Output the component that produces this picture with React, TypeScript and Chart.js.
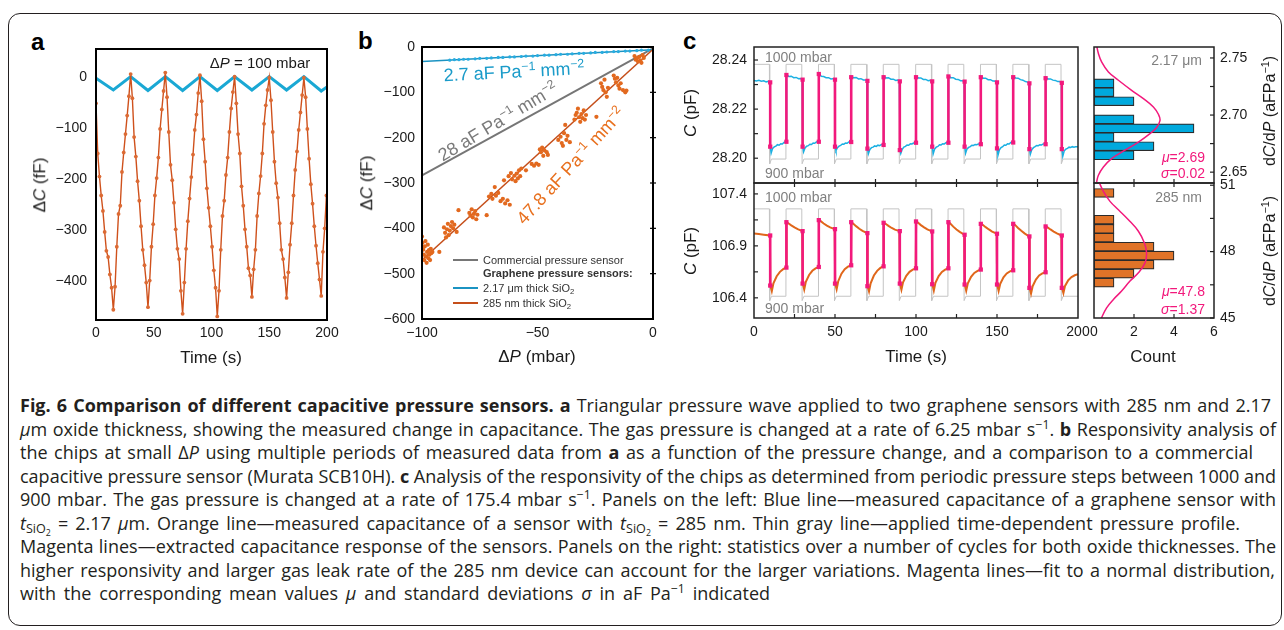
import React, { useEffect, useLayoutEffect, useRef } from "react";
import { Chart, registerables } from "chart.js";

Chart.register(...registerables);

const FONT = "'Liberation Sans', Arial, Helvetica, sans-serif";
const CAPTION_FONT = "'Open Sans', 'Noto Sans', sans-serif";
Chart.defaults.font.family = FONT;
Chart.defaults.color = "#1a1a1a";

// ---------------- colours ----------------
const BLUE_A = "#1aa8d4";
const ORANGE_A = "#cf511c";
const ORANGE_PT = "#dc6a33";
const BLUE_C = "#1bb0e2";
const ORANGE_C = "#e0661a";
const GRAY_P = "#c4c4c4";
const MAG = "#f2197c";
const HIST_BLUE = "#00a9dd";
const HIST_ORANGE = "#e07328";

// ---------------- panel a data ----------------
const A_SAMPLE_DT = 1.5; // seconds between samples of the 285 nm trace
const A_ORANGE_DC = [
  -52, -150, -195, -232, -262, -303, -340, -352, -386, -412, -455,
  -410, -332, -268, -252, -186, -148, -112, -76, -38, 5,
  -42, -118, -156, -204, -242, -292, -338, -368, -402, -450,
  -398, -332, -288, -232, -198, -158, -102, -64, -28, 8,
  -40, -108, -172, -202, -246, -298, -336, -356, -418, -463,
  -402, -336, -282, -238, -196, -152, -104, -74, -32, 3,
  -48, -122, -166, -218, -256, -292, -332, -378, -412, -468,
  -418, -338, -272, -242, -192, -158, -108, -62, -30, 0,
  -52, -112, -150, -214, -252, -298, -332, -374, -388, -430,
  -376, -338, -272, -228, -194, -150, -92, -56, -26, -2,
  -46, -108, -166, -208, -236, -286, -338, -356, -392, -432,
  -382, -328, -286, -232, -182, -146, -104, -70, -36, -2,
  -40, -102, -160, -210, -248, -292, -330, -364, -396, -428,
  -342, -296, -232,
];
const A_BLUE_T = [0, 15, 30, 45, 60, 75, 90, 105, 120, 135, 150, 165, 180, 195, 200];
const A_BLUE_DC = [-3, -26, 0, -27, 0, -27, 0, -27, 0, -26, 0, -26, 0, -28, -20];
const A_X_TICKS = [0, 50, 100, 150, 200];
const A_Y_TICKS = [0, -100, -200, -300, -400];

// ---------------- panel b data ----------------
const B_ORANGE_PTS: [number, number][] = [
  [-100, -418], [-99.8, -432], [-99.5, -447], [-99.2, -458], [-99, -470], [-98.8, -440], [-98.5, -428],
  [-98.2, -462], [-98, -476], [-97.8, -452], [-97.5, -436], [-97.2, -466], [-97, -448], [-96.8, -458],
  [-96.5, -470], [-96.2, -445], [-96, -455], [-95.5, -452], [-92.5, -452],
  [-90.5, -398], [-90, -410], [-89.6, -420], [-89.2, -402], [-88.8, -390], [-88.5, -415], [-88, -405],
  [-87.5, -395], [-87, -386], [-86.5, -400], [-86, -392], [-85, -408], [-84.2, -360],
  [-79.5, -366], [-79, -372], [-78.5, -358], [-78, -376], [-77.5, -368], [-77, -362], [-76.5, -380],
  [-76, -370], [-72, -371],
  [-71, -330], [-70, -324], [-69.5, -335], [-68.5, -309], [-68, -328], [-67, -322],
  [-66, -340], [-65, -335], [-64.5, -294], [-64, -345], [-63, -338], [-62, -348],
  [-62.5, -285], [-61.5, -278], [-61, -292], [-60, -284], [-59.5, -296], [-59, -279], [-58.5, -290],
  [-58, -272], [-57.5, -285], [-57, -268],
  [-55, -272], [-52.5, -258], [-51.5, -262], [-50.5, -257], [-49.5, -260],
  [-49, -226], [-48.5, -232], [-48, -222], [-47.5, -240], [-47, -228], [-46, -232], [-45.5, -238],
  [-41, -205], [-40, -198], [-39.5, -212], [-39, -218], [-38.5, -190], [-38, -172], [-37.5, -205],
  [-37, -196], [-36, -210],
  [-34, -160], [-33.5, -150], [-33, -145], [-32.5, -136], [-32, -155], [-31.5, -165], [-31, -148],
  [-30.5, -157], [-30, -140], [-29.5, -160], [-29, -150], [-24.5, -154],
  [-22.5, -80], [-22, -88], [-21.5, -95], [-21, -72], [-20.5, -100], [-20, -110], [-19.5, -90],
  [-17, -63], [-16.5, -70], [-16, -78], [-15.5, -68], [-15, -85], [-14.5, -92], [-14, -80],
  [-13, -95], [-12, -100], [-11.5, -96],
  [-8, -20], [-7.5, -28], [-7, -25], [-6.5, -32], [-6, -22], [-5.5, -30], [-5, -35], [-4.5, -18], [-4, -24],
];
const B_BLUE_PTS: [number, number][] = [
  [-88, -29], [-86, -28], [-84, -28], [-82, -27], [-80, -27], [-77, -26], [-75, -25], [-72, -25],
  [-70, -24], [-67, -23], [-65, -23], [-62, -22], [-60, -22], [-57, -21], [-55, -20], [-52, -20],
  [-50, -19], [-47, -18], [-45, -18], [-42, -17], [-40, -16], [-37, -16], [-35, -15], [-32, -14],
  [-30, -14], [-27, -13], [-25, -12], [-22, -12], [-20, -11], [-17, -10], [-15, -10], [-12, -9],
  [-10, -9], [-7, -8], [-5, -7], [-2, -7],
];
const B_FIT_ORANGE: [number, number][] = [[-100, -470], [0, -5]];
const B_FIT_BLUE: [number, number][] = [[-100, -32], [0, -6]];
const B_COMMERCIAL: [number, number][] = [[-100, -283], [0, -3]];
const B_X_TICKS = [-100, -50, 0];
const B_Y_TICKS = [0, -100, -200, -300, -400, -500, -600];

// ---------------- panel c data ----------------
const C_PRESSURE_T = [
  0, 9.5, 9.7, 10.8, 19.7, 19.8,
  29.5, 29.7, 30.8, 39.7, 39.8,
  49.5, 49.7, 50.8, 59.7, 59.8,
  69.5, 69.7, 70.8, 79.7, 79.8,
  89.5, 89.7, 90.8, 99.7, 99.8,
  109.5, 109.7, 110.8, 119.7, 119.8,
  129.5, 129.7, 130.8, 139.7, 139.8,
  149.5, 149.7, 150.8, 159.7, 159.8,
  169.5, 169.7, 170.8, 179.7, 179.8,
  189.5, 189.7, 190.8, 200,
];
const C_PRESSURE_MBAR = [
  1000, 1000, 895, 900, 900, 1000,
  1000, 895, 900, 900, 1000,
  1000, 895, 900, 900, 1000,
  1000, 895, 900, 900, 1000,
  1000, 895, 900, 900, 1000,
  1000, 895, 900, 900, 1000,
  1000, 895, 900, 900, 1000,
  1000, 895, 900, 900, 1000,
  1000, 895, 900, 900, 1000,
  1000, 895, 900, 900,
];
const C_BLUE: [number, number][] = [
  [0, 28.2317], [1.5, 28.2315], [3, 28.2317], [4.5, 28.2314], [6, 28.2315], [7.5, 28.2311], [9, 28.2313], [9.8, 28.231],
  [10.1, 28.2045], [10.6, 28.2021], [11.5, 28.204], [12.5, 28.2046], [13.5, 28.2049], [14.5, 28.2055], [15.5, 28.2053],
  [16.5, 28.2059], [17.5, 28.2058], [18.5, 28.2064], [19.8, 28.2067],
  [20.1, 28.2341], [21.5, 28.2333], [23, 28.2334], [24.5, 28.2328], [26, 28.2329], [27.5, 28.2324], [28.5, 28.2325], [29.8, 28.232],
  [30.1, 28.2046], [30.6, 28.2026], [31.5, 28.2042], [32.5, 28.2049], [33.5, 28.2051], [34.5, 28.2057], [35.5, 28.2056],
  [36.5, 28.2062], [37.5, 28.2061], [38.5, 28.2066], [39.8, 28.2068],
  [40.1, 28.2345], [41.5, 28.2334], [43, 28.2333], [44.5, 28.2328], [46, 28.2328], [47.5, 28.2323], [48.5, 28.2324], [49.8, 28.232],
  [50.1, 28.2046], [50.6, 28.2031], [51.5, 28.2043], [52.5, 28.2049], [53.5, 28.2052], [54.5, 28.2058], [55.5, 28.2057],
  [56.5, 28.2062], [57.5, 28.2061], [58.5, 28.2066], [59.8, 28.2067],
  [60.1, 28.2332], [61.5, 28.2328], [63, 28.2329], [64.5, 28.2323], [66, 28.2324], [67.5, 28.2319], [68.5, 28.2319], [69.8, 28.2316],
  [70.1, 28.204], [70.6, 28.2018], [71.5, 28.2035], [72.5, 28.2043], [73.5, 28.2045], [74.5, 28.205], [75.5, 28.2048],
  [76.5, 28.2053], [77.5, 28.2051], [78.5, 28.2055], [79.8, 28.2055],
  [80.1, 28.2333], [81.5, 28.2327], [83, 28.2328], [84.5, 28.2322], [86, 28.2322], [87.5, 28.2317], [88.5, 28.2318], [89.8, 28.2314],
  [90.1, 28.2034], [90.6, 28.2019], [91.5, 28.2036], [92.5, 28.2045], [93.5, 28.2048], [94.5, 28.2054], [95.5, 28.2053],
  [96.5, 28.2059], [97.5, 28.2058], [98.5, 28.2062], [99.8, 28.2063],
  [100.1, 28.2332], [101.5, 28.2327], [103, 28.2327], [104.5, 28.2321], [106, 28.2321], [107.5, 28.2316], [108.5, 28.2317], [109.8, 28.2314],
  [110.1, 28.2047], [110.6, 28.2018], [111.5, 28.2037], [112.5, 28.2045], [113.5, 28.2048], [114.5, 28.2055], [115.5, 28.2054],
  [116.5, 28.2059], [117.5, 28.2058], [118.5, 28.2063], [119.8, 28.2064],
  [120.1, 28.2335], [121.5, 28.2328], [123, 28.2328], [124.5, 28.2322], [126, 28.2321], [127.5, 28.2316], [128.5, 28.2316], [129.8, 28.2312],
  [130.1, 28.2047], [130.6, 28.202], [131.5, 28.2038], [132.5, 28.2044], [133.5, 28.2047], [134.5, 28.2053], [135.5, 28.2052],
  [136.5, 28.2056], [137.5, 28.2055], [138.5, 28.2058], [139.8, 28.2058],
  [140.1, 28.2331], [141.5, 28.2326], [143, 28.2326], [144.5, 28.232], [146, 28.232], [147.5, 28.2314], [148.5, 28.2314], [149.8, 28.231],
  [150.1, 28.204], [150.6, 28.2012], [151.5, 28.2034], [152.5, 28.2043], [153.5, 28.2047], [154.5, 28.2054], [155.5, 28.2053],
  [156.5, 28.2059], [157.5, 28.2058], [158.5, 28.2064], [159.8, 28.2065],
  [160.1, 28.2332], [161.5, 28.2327], [163, 28.2326], [164.5, 28.232], [166, 28.2318], [167.5, 28.2312], [168.5, 28.2311], [169.8, 28.2306],
  [170.1, 28.2037], [170.6, 28.2017], [171.5, 28.2035], [172.5, 28.2043], [173.5, 28.2047], [174.5, 28.2052], [175.5, 28.2051],
  [176.5, 28.2055], [177.5, 28.2054], [178.5, 28.2058], [179.8, 28.2058],
  [180.1, 28.2328], [181.5, 28.2323], [183, 28.2323], [184.5, 28.2318], [186, 28.2317], [187.5, 28.2312], [188.5, 28.2312], [189.8, 28.2308],
  [190.1, 28.2037], [190.6, 28.2008], [191.5, 28.203], [192.5, 28.2037], [193.5, 28.204], [194.5, 28.2045], [195.5, 28.2044],
  [196.5, 28.2047], [197.5, 28.2045], [198.5, 28.2047], [200, 28.2047],
];
const C_ORANGE: [number, number][] = [
  [0, 107.02], [3, 107.015], [6, 107.008], [9.8, 107.0],
  [10.1, 106.518], [11, 106.465], [12, 106.54], [14, 106.608], [16, 106.65], [18, 106.676], [19.8, 106.691],
  [20.1, 107.128], [21, 107.12], [23, 107.098], [25, 107.078], [27, 107.062], [29.8, 107.042],
  [30.1, 106.537], [31, 106.48], [32, 106.555], [34, 106.62], [36, 106.66], [38, 106.683], [39.8, 106.697],
  [40.1, 107.148], [41, 107.14], [43, 107.115], [45, 107.095], [47, 107.078], [49.8, 107.061],
  [50.1, 106.537], [51, 106.482], [52, 106.56], [54, 106.632], [56, 106.675], [58, 106.7], [59.8, 106.713],
  [60.1, 107.128], [61, 107.118], [63, 107.09], [65, 107.065], [67, 107.045], [69.8, 107.023],
  [70.1, 106.512], [71, 106.462], [72, 106.54], [74, 106.615], [76, 106.66], [78, 106.688], [79.8, 106.703],
  [80.1, 107.122], [81, 107.115], [83, 107.092], [85, 107.072], [87, 107.056], [89.8, 107.042],
  [90.1, 106.537], [91, 106.478], [92, 106.55], [94, 106.612], [96, 106.65], [98, 106.672], [99.8, 106.684],
  [100.1, 107.135], [101, 107.127], [103, 107.1], [105, 107.078], [107, 107.058], [109.8, 107.039],
  [110.1, 106.531], [111, 106.47], [112, 106.545], [114, 106.61], [116, 106.65], [118, 106.672], [119.8, 106.684],
  [120.1, 107.128], [121, 107.118], [123, 107.085], [125, 107.058], [127, 107.035], [129.8, 107.007],
  [130.1, 106.528], [131, 106.468], [132, 106.54], [134, 106.602], [136, 106.64], [138, 106.66], [139.8, 106.672],
  [140.1, 107.112], [141, 107.105], [143, 107.08], [145, 107.058], [147, 107.038], [149.8, 107.017],
  [150.1, 106.528], [151, 106.466], [152, 106.535], [154, 106.598], [156, 106.635], [158, 106.655], [159.8, 106.665],
  [160.1, 107.112], [161, 107.104], [163, 107.072], [165, 107.045], [167, 107.02], [169.8, 106.991],
  [170.1, 106.496], [171, 106.44], [172, 106.512], [174, 106.575], [176, 106.615], [178, 106.635], [179.8, 106.646],
  [180.1, 107.087], [181, 107.08], [183, 107.058], [185, 107.038], [187, 107.02], [189.8, 107.0],
  [190.1, 106.496], [191, 106.445], [192, 106.515], [194, 106.57], [196, 106.6], [198, 106.617], [200, 106.628],
];
const C_STEP_T = [10, 20, 30, 40, 50, 60, 70, 80, 90, 100, 110, 120, 130, 140, 150, 160, 170, 180, 190];
const C_BLUE_STEP_HI = [28.2309, 28.2339, 28.232, 28.2343, 28.232, 28.233, 28.2315, 28.233, 28.2313, 28.233,
  28.2313, 28.2333, 28.2312, 28.233, 28.2309, 28.233, 28.2305, 28.2326, 28.2307];
const C_BLUE_STEP_LO = [28.2047, 28.2067, 28.2047, 28.2067, 28.2047, 28.2066, 28.2039, 28.2054, 28.2033, 28.2063,
  28.2047, 28.2063, 28.2047, 28.2057, 28.204, 28.2064, 28.2037, 28.2057, 28.2037];
const C_ORANGE_STEP_HI = [107.0, 107.128, 107.042, 107.148, 107.061, 107.128, 107.023, 107.122, 107.042, 107.135,
  107.039, 107.128, 107.007, 107.112, 107.017, 107.112, 106.991, 107.087, 107.0];
const C_ORANGE_STEP_LO = [106.518, 106.691, 106.537, 106.697, 106.537, 106.713, 106.512, 106.703, 106.537, 106.684,
  106.531, 106.684, 106.528, 106.672, 106.528, 106.665, 106.496, 106.646, 106.496];
const C_X_TICKS = [0, 50, 100, 150, 200];
const C_X_MINOR = [25, 50, 75, 100, 125, 150, 175];
const C_TOP_Y_TICKS = [28.2, 28.22, 28.24];
const C_TOP_Y_MINOR = [28.2, 28.21, 28.22, 28.23, 28.24];
const C_BOT_Y_TICKS = [106.4, 106.9, 107.4];
const C_BOT_Y_MINOR = [106.4, 106.65, 106.9, 107.15, 107.4];

// ---------------- histogram data ----------------
const H_TOP_BINS = [2.6648, 2.6727, 2.6806, 2.6884, 2.6963, 2.7042, 2.7121, 2.72, 2.7278];
const H_TOP_COUNTS = [2, 3, 1, 5, 2, 0, 2, 1, 1];
const H_TOP_FIT: [number, number][] = [
  [0.13, 2.7611], [0.22, 2.7539], [0.38, 2.7465], [0.72, 2.7377], [1.22, 2.7305], [1.88, 2.7217],
  [2.47, 2.7144], [2.97, 2.7071], [3.22, 2.7007], [3.3, 2.6954], [3.13, 2.6891], [2.8, 2.6838],
  [2.22, 2.6764], [1.55, 2.6692], [0.88, 2.6619], [0.47, 2.6545], [0.22, 2.6473], [0.13, 2.6414],
];
const H_BOT_BINS = [46.6, 47.0, 47.41, 47.82, 48.22, 48.63, 49.03, 49.44, 49.84, 50.25, 50.65];
const H_BOT_COUNTS = [1, 2, 3, 4, 3, 1, 1, 1, 0, 0, 1];
const H_BOT_FIT: [number, number][] = [
  [0.18, 51.3], [0.47, 50.72], [0.8, 50.27], [1.22, 49.89], [1.72, 49.44], [2.22, 48.92], [2.52, 48.39],
  [2.63, 47.94], [2.55, 47.49], [2.22, 47.04], [1.8, 46.67], [1.38, 46.22], [0.97, 45.84], [0.63, 45.46],
  [0.38, 45.01], [0.3, 44.8],
];
const H_X_TICKS = [0, 2, 4, 6];
const H_TOP_Y_TICKS = [2.65, 2.7, 2.75];
const H_TOP_Y_MINOR = [2.65, 2.675, 2.7, 2.725, 2.75];
const H_BOT_Y_TICKS = [45, 48, 51];
const H_BOT_Y_MINOR = [45, 46.5, 48, 49.5, 51];

// ---------------- helpers ----------------
const fmtInt = (v: number) => (v < 0 ? "\u2212" + Math.abs(v) : String(v));

type Box = { l: number; t: number; w: number; h: number; pl: number; pr: number; pt: number; pb: number };
type TickSpec = { scale: string; edge: "left" | "right" | "top" | "bottom"; values: number[]; len?: number; out?: number };

function framePlugin(cfg: { width: number; color: string; ticks: TickSpec[] }) {
  return {
    id: "frame",
    afterDraw(chart: any) {
      const { ctx, chartArea: a } = chart;
      ctx.save();
      ctx.strokeStyle = cfg.color;
      ctx.lineWidth = 1.2;
      for (const tk of cfg.ticks) {
        const s = chart.scales[tk.scale];
        const len = tk.len ?? 4;
        const out = tk.out ?? 0;
        for (const v of tk.values) {
          const p = s.getPixelForValue(v);
          ctx.beginPath();
          if (tk.edge === "left") { ctx.moveTo(a.left - out, p); ctx.lineTo(a.left + len, p); }
          else if (tk.edge === "right") { ctx.moveTo(a.right + out, p); ctx.lineTo(a.right - len, p); }
          else if (tk.edge === "top") { ctx.moveTo(p, a.top - out); ctx.lineTo(p, a.top + len); }
          else { ctx.moveTo(p, a.bottom + out); ctx.lineTo(p, a.bottom - len); }
          ctx.stroke();
        }
      }
      ctx.lineWidth = cfg.width;
      ctx.strokeRect(a.left, a.top, a.width, a.height);
      ctx.restore();
    },
  };
}

function axis(
  min: number,
  max: number,
  tickVals: number[],
  o: { position?: string; pad?: number; fmt?: (v: number) => string; labels?: boolean; display?: boolean; size?: number } = {}
) {
  const size = o.size ?? 0;
  return {
    type: "linear",
    min,
    max,
    offset: false,
    grace: 0,
    position: o.position,
    display: o.display !== false,
    grid: { display: false, drawTicks: false, offset: false },
    border: { display: false },
    afterBuildTicks: (s: any) => {
      s.ticks = tickVals.map((v) => ({ value: v }));
    },
    afterFit: (s: any) => {
      if (s.isHorizontal()) s.height = size;
      else s.width = size;
      s.paddingLeft = 0;
      s.paddingRight = 0;
      s.paddingTop = 0;
      s.paddingBottom = 0;
    },
    ticks: {
      display: o.labels !== false,
      padding: o.pad ?? 6,
      color: "#1a1a1a",
      font: { size: 14, family: FONT },
      maxRotation: 0,
      minRotation: 0,
      autoSkip: false,
      callback: (v: number) => (o.fmt ? o.fmt(v) : fmtInt(v)),
    },
  };
}

function baseOptions(padding: any, scales: any, extra: any = {}) {
  return {
    responsive: false,
    maintainAspectRatio: false,
    animation: false,
    devicePixelRatio: 1,
    events: [],
    layout: { padding },
    plugins: { legend: { display: false }, tooltip: { enabled: false }, title: { display: false } },
    scales,
    ...extra,
  };
}

function ChartBox({ box, build }: { box: Box; build: (b: Box) => any }) {
  const ref = useRef<HTMLCanvasElement | null>(null);
  useEffect(() => {
    if (!ref.current) return;
    const chart = new Chart(ref.current, build(box));
    return () => chart.destroy();
  }, []);
  const W = box.w + box.pl + box.pr;
  const H = box.h + box.pt + box.pb;
  return (
    <canvas
      ref={ref}
      width={W}
      height={H}
      style={{ position: "absolute", left: box.l - box.pl, top: box.t - box.pt, width: W, height: H }}
    />
  );
}

const pts = (arr: [number, number][]) => arr.map(([x, y]) => ({ x, y }));
const stepPts = (hi: number[], lo: number[]) =>
  C_STEP_T.flatMap((t, i) => [
    { x: t, y: hi[i] },
    { x: t, y: lo[i] },
    { x: t, y: null as any },
  ]);

// ---------------- chart configs ----------------
const BOX_A: Box = { l: 96, t: 49, w: 231, h: 271, pl: 75, pr: 15, pt: 8, pb: 30 };
const BOX_B: Box = { l: 422, t: 47, w: 231, h: 272, pl: 70, pr: 12, pt: 8, pb: 30 };
const BOX_CT: Box = { l: 754, t: 47, w: 324, h: 136, pl: 70, pr: 6, pt: 6, pb: 4 };
const BOX_CB: Box = { l: 754, t: 183, w: 324, h: 135, pl: 70, pr: 14, pt: 4, pb: 30 };
const BOX_HT: Box = { l: 1094, t: 47, w: 120, h: 136, pl: 6, pr: 50, pt: 6, pb: 4 };
const BOX_HB: Box = { l: 1094, t: 183, w: 120, h: 135, pl: 20, pr: 50, pt: 4, pb: 30 };

function buildA(box: Box) {
  return {
    type: "scatter",
    data: {
      datasets: [
        {
          data: A_ORANGE_DC.map((v, i) => ({ x: i * A_SAMPLE_DT, y: v })),
          showLine: true,
          borderColor: ORANGE_A,
          borderWidth: 1.4,
          pointRadius: 1.9,
          pointBackgroundColor: ORANGE_PT,
          pointBorderWidth: 0,
        },
        {
          data: A_BLUE_T.map((t, i) => ({ x: t, y: A_BLUE_DC[i] })),
          showLine: true,
          borderColor: BLUE_A,
          borderWidth: 3,
          pointRadius: 0,
        },
      ],
    },
    options: baseOptions({ left: 0, bottom: 0, top: box.pt, right: box.pr }, {
      x: axis(0, 200, A_X_TICKS, { pad: 5, size: box.pb }),
      y: axis(-475, 54, A_Y_TICKS, { pad: 9, size: box.pl }),
    }),
    plugins: [framePlugin({ width: 2, color: "#000", ticks: [] })],
  };
}

function buildB(box: Box) {
  return {
    type: "scatter",
    data: {
      datasets: [
        { data: pts(B_ORANGE_PTS), showLine: false, pointRadius: 2.1, pointBackgroundColor: "#e2691f", pointBorderWidth: 0 },
        { data: pts(B_FIT_ORANGE), showLine: true, borderColor: "#c54e1a", borderWidth: 1.5, pointRadius: 0 },
        { data: pts(B_BLUE_PTS), showLine: false, pointRadius: 1.6, pointBackgroundColor: "#27ace0", pointBorderWidth: 0 },
        { data: pts(B_FIT_BLUE), showLine: true, borderColor: "#1b93c2", borderWidth: 1.5, pointRadius: 0 },
        { data: pts(B_COMMERCIAL), showLine: true, borderColor: "#767676", borderWidth: 2, pointRadius: 0 },
      ],
    },
    options: baseOptions({ left: 0, bottom: 0, top: box.pt, right: box.pr }, {
      x: axis(-100, 0, B_X_TICKS, { pad: 6, size: box.pb }),
      y: axis(-600, 0, B_Y_TICKS, { pad: 7, size: box.pl }),
    }),
    plugins: [
      framePlugin({
        width: 2,
        color: "#000",
        ticks: [{ scale: "y", edge: "right", values: [-100, -200, -300, -400, -500], len: 3, out: 3 }],
      }),
    ],
  };
}

function buildCTop(box: Box) {
  return {
    type: "scatter",
    data: {
      datasets: [
        {
          data: stepPts(C_BLUE_STEP_HI, C_BLUE_STEP_LO),
          showLine: true,
          spanGaps: false,
          borderColor: MAG,
          borderWidth: 2.6,
          pointStyle: "rect",
          pointRadius: 3,
          pointBackgroundColor: MAG,
          pointBorderWidth: 0,
        },
        { data: pts(C_BLUE), showLine: true, borderColor: BLUE_C, borderWidth: 1.5, pointRadius: 0 },
        {
          data: C_PRESSURE_T.map((t, i) => ({ x: t, y: C_PRESSURE_MBAR[i] })),
          yAxisID: "y2",
          showLine: true,
          borderColor: GRAY_P,
          borderWidth: 1,
          pointRadius: 0,
        },
      ],
    },
    options: baseOptions({ left: 0, bottom: box.pb, top: box.pt, right: box.pr }, {
      x: axis(0, 200, C_X_TICKS, { labels: false, size: 0 }),
      y: axis(28.1899, 28.2453, C_TOP_Y_TICKS, { pad: 7, fmt: (v) => v.toFixed(2), size: box.pl }),
      y2: axis(874.7, 1018.3, [], { display: false }),
    }),
    plugins: [
      framePlugin({
        width: 1.5,
        color: "#222",
        ticks: [
          { scale: "y", edge: "left", values: C_TOP_Y_MINOR, len: 4 },
          { scale: "x", edge: "bottom", values: C_X_MINOR, len: 4 },
        ],
      }),
    ],
  };
}

function buildCBot(box: Box) {
  return {
    type: "scatter",
    data: {
      datasets: [
        {
          data: stepPts(C_ORANGE_STEP_HI, C_ORANGE_STEP_LO),
          showLine: true,
          spanGaps: false,
          borderColor: MAG,
          borderWidth: 2.6,
          pointStyle: "rect",
          pointRadius: 3,
          pointBackgroundColor: MAG,
          pointBorderWidth: 0,
        },
        { data: pts(C_ORANGE), showLine: true, borderColor: ORANGE_C, borderWidth: 2, pointRadius: 0 },
        {
          data: C_PRESSURE_T.map((t, i) => ({ x: t, y: C_PRESSURE_MBAR[i] })),
          yAxisID: "y2",
          showLine: true,
          borderColor: GRAY_P,
          borderWidth: 1,
          pointRadius: 0,
        },
      ],
    },
    options: baseOptions({ left: 0, bottom: 0, top: box.pt, right: box.pr }, {
      x: axis(0, 200, C_X_TICKS, { pad: 6, size: box.pb }),
      y: axis(106.206, 107.505, C_BOT_Y_TICKS, { pad: 7, fmt: (v) => v.toFixed(1), size: box.pl }),
      y2: axis(875.1, 1029.6, [], { display: false }),
    }),
    plugins: [
      framePlugin({
        width: 1.5,
        color: "#222",
        ticks: [
          { scale: "y", edge: "left", values: C_BOT_Y_MINOR, len: 4 },
          { scale: "x", edge: "top", values: C_X_MINOR, len: 4 },
          { scale: "x", edge: "bottom", values: C_X_MINOR, len: 4 },
        ],
      }),
    ],
  };
}

function buildHist(
  box: Box,
  bins: number[],
  counts: number[],
  fit: [number, number][],
  color: string,
  yMin: number,
  yMax: number,
  yTicks: number[],
  yMinor: number[],
  fmt: (v: number) => string,
  bottom: boolean
) {
  const ticks: TickSpec[] = [
    { scale: "y", edge: "right", values: yMinor, len: 4 },
    { scale: "x", edge: "bottom", values: [2, 4], len: 4 },
  ];
  if (bottom) ticks.push({ scale: "x", edge: "top", values: [2, 4], len: 4 });
  return {
    type: "bar",
    data: {
      datasets: [
        {
          type: "line",
          data: pts(fit),
          borderColor: MAG,
          borderWidth: 1.5,
          pointRadius: 0,
          tension: 0.4,
          fill: false,
        },
        {
          type: "bar",
          data: bins.map((b, i) => ({ x: counts[i], y: b })),
          backgroundColor: color,
          borderColor: "#2b2b2b",
          borderWidth: 1.2,
          borderSkipped: false,
          barThickness: 9,
        },
      ],
    },
    options: baseOptions(
      { left: box.pl, top: box.pt, right: 0, bottom: bottom ? 0 : box.pb },
      {
        x: axis(0, 6, H_X_TICKS, { pad: 6, labels: bottom, size: bottom ? box.pb : 0 }),
        y: axis(yMin, yMax, yTicks, { position: "right", pad: 6, fmt, size: box.pr }),
      },
      { indexAxis: "y" }
    ),
    plugins: [framePlugin({ width: 1.5, color: "#222", ticks })],
  };
}

// ---------------- text helpers ----------------
const Sup = ({ children }: { children: any }) => (
  <span style={{ fontSize: "0.68em", verticalAlign: "0.55em", lineHeight: 0 }}>{children}</span>
);
const Sub = ({ children }: { children: any }) => (
  <span style={{ fontSize: "0.7em", verticalAlign: "-0.3em", lineHeight: 0 }}>{children}</span>
);

function Txt({
  x,
  y,
  size = 14,
  color = "#1a1a1a",
  align = "center",
  rot = 0,
  weight = 400,
  family = FONT,
  children,
}: {
  x: number;
  y: number;
  size?: number;
  color?: string;
  align?: "center" | "left" | "right";
  rot?: number;
  weight?: number;
  family?: string;
  children: any;
}) {
  const tx = align === "center" ? "-50%" : align === "right" ? "-100%" : "0";
  return (
    <div
      style={{
        position: "absolute",
        left: x,
        top: y,
        transform: `translate(${tx}, -50%) rotate(${rot}deg)`,
        fontSize: size,
        color,
        fontFamily: family,
        fontWeight: weight,
        whiteSpace: "nowrap",
        lineHeight: 1.15,
      }}
    >
      {children}
    </div>
  );
}

function CapLine({ y, right, children }: { y: number; right?: number; children: any }) {
  const ref = useRef<HTMLDivElement | null>(null);
  useLayoutEffect(() => {
    const el = ref.current;
    if (!el || !right) return;
    el.style.wordSpacing = "0px";
    const w = el.getBoundingClientRect().width;
    const n = (el.textContent || "").split(" ").length - 1;
    if (n > 0) el.style.wordSpacing = `${(right - 20 - w) / n}px`;
  }, []);
  return (
    <div
      ref={ref}
      style={{
        position: "absolute",
        left: 20,
        top: y - 12,
        height: 24,
        lineHeight: "24px",
        fontSize: 18,
        fontFamily: CAPTION_FONT,
        whiteSpace: "nowrap",
        color: "#231f20",
      }}
    >
      {children}
    </div>
  );
}

function LegendRow({ y, color, children, bold }: { y: number; color?: string; children: any; bold?: boolean }) {
  return (
    <>
      {color && (
        <div style={{ position: "absolute", left: 453, top: y - 1, width: 25, height: 2, background: color }} />
      )}
      <Txt x={483} y={y} size={11} align="left" color="#333" weight={bold ? 700 : 400}>
        {children}
      </Txt>
    </>
  );
}

export default function App() {
  const I = ({ children }: { children: any }) => <i>{children}</i>;
  return (
    <div
      style={{
        position: "absolute",
        left: 0,
        top: 0,
        width: 1284,
        height: 630,
        background: "#fff",
        overflow: "hidden",
        fontFamily: FONT,
      }}
    >
      <div
        style={{
          position: "absolute",
          left: 8,
          top: 13,
          width: 1274,
          height: 613,
          boxSizing: "border-box",
          border: "1.5px solid #231f20",
          borderRadius: 12,
        }}
      />

      {/* panel letters */}
      <div style={{ position: "absolute", left: 31, top: 30, fontSize: 24, fontWeight: 700, lineHeight: 1, fontFamily: FONT }}>a</div>
      <div style={{ position: "absolute", left: 358, top: 29, fontSize: 24, fontWeight: 700, lineHeight: 1, fontFamily: FONT }}>b</div>
      <div style={{ position: "absolute", left: 683, top: 29, fontSize: 24, fontWeight: 700, lineHeight: 1, fontFamily: FONT }}>c</div>

      <ChartBox box={BOX_A} build={buildA} />
      <ChartBox box={BOX_B} build={buildB} />
      <ChartBox box={BOX_CT} build={buildCTop} />
      <ChartBox box={BOX_CB} build={buildCBot} />
      <ChartBox
        box={BOX_HT}
        build={(b) =>
          buildHist(b, H_TOP_BINS, H_TOP_COUNTS, H_TOP_FIT, HIST_BLUE, 2.6405, 2.7596, H_TOP_Y_TICKS, H_TOP_Y_MINOR, (v) => v.toFixed(2), false)
        }
      />
      <ChartBox
        box={BOX_HB}
        build={(b) =>
          buildHist(b, H_BOT_BINS, H_BOT_COUNTS, H_BOT_FIT, HIST_ORANGE, 45, 51.1, H_BOT_Y_TICKS, H_BOT_Y_MINOR, (v) => String(v), true)
        }
      />

      {/* panel a text */}
      <Txt x={260} y={63} size={15}>
        Δ<I>P</I> = 100 mbar
      </Txt>
      <Txt x={211} y={358} size={17}>Time (s)</Txt>
      <Txt x={40} y={185} size={17} rot={-90}>
        Δ<I>C</I> (fF)
      </Txt>

      {/* panel b text */}
      <Txt x={537} y={357} size={17}>
        Δ<I>P</I> (mbar)
      </Txt>
      <Txt x={367} y={183} size={17} rot={-90}>
        Δ<I>C</I> (fF)
      </Txt>
      <Txt x={514} y={72} size={18} rot={-3} color="#1a9bc9">
        2.7 aF Pa<Sup>−1</Sup> mm<Sup>−2</Sup>
      </Txt>
      <Txt x={498} y={122} size={18} rot={-31} color="#7a7a7a">
        28 aF Pa<Sup>−1</Sup> mm<Sup>−2</Sup>
      </Txt>
      <Txt x={571} y={166} size={18} rot={-47.5} color="#e8701e">
        47.8 aF Pa<Sup>−1</Sup> mm<Sup>−2</Sup>
      </Txt>
      <LegendRow y={260} color="#767676">Commercial pressure sensor</LegendRow>
      <LegendRow y={273} bold>Graphene pressure sensors:</LegendRow>
      <LegendRow y={288} color="#1b93c2">
        2.17 μm thick SiO<Sub>2</Sub>
      </LegendRow>
      <LegendRow y={303} color="#c54e1a">
        285 nm thick SiO<Sub>2</Sub>
      </LegendRow>

      {/* panel c text */}
      <Txt x={765} y={57} size={14} align="left" color="#808080">1000 mbar</Txt>
      <Txt x={765} y={173} size={14} align="left" color="#808080">900 mbar</Txt>
      <Txt x={765} y={197} size={14} align="left" color="#808080">1000 mbar</Txt>
      <Txt x={765} y={308} size={14} align="left" color="#808080">900 mbar</Txt>
      <Txt x={916} y={357} size={17}>Time (s)</Txt>
      <Txt x={691} y={113} size={17} rot={-90}>
        <I>C</I> (pF)
      </Txt>
      <Txt x={691} y={251} size={17} rot={-90}>
        <I>C</I> (pF)
      </Txt>

      {/* histogram text */}
      <Txt x={1202} y={60} size={14} align="right" color="#808080">2.17 μm</Txt>
      <Txt x={1202} y={197} size={14} align="right" color="#808080">285 nm</Txt>
      <Txt x={1205} y={157} size={14} align="right" color={MAG}>
        <I>μ</I>=2.69
      </Txt>
      <Txt x={1205} y={173} size={14} align="right" color={MAG}>
        <I>σ</I>=0.02
      </Txt>
      <Txt x={1205} y={291} size={14} align="right" color={MAG}>
        <I>μ</I>=47.8
      </Txt>
      <Txt x={1205} y={309} size={14} align="right" color={MAG}>
        <I>σ</I>=1.37
      </Txt>
      <Txt x={1153} y={357} size={17}>Count</Txt>
      <Txt x={1270} y={111} size={16} rot={-90}>
        d<I>C</I>/d<I>P</I> (aFPa<Sup>−1</Sup>)
      </Txt>
      <Txt x={1270} y={251} size={16} rot={-90}>
        d<I>C</I>/d<I>P</I> (aFPa<Sup>−1</Sup>)
      </Txt>

      {/* caption */}
      <CapLine y={405} right={1271}>
        <b>Fig. 6 Comparison of different capacitive pressure sensors. a</b> Triangular pressure wave applied to two graphene sensors with 285 nm and 2.17
      </CapLine>
      <CapLine y={428.5} right={1276}>
        <I>μ</I>m oxide thickness, showing the measured change in capacitance. The gas pressure is changed at a rate of 6.25 mbar s<Sup>−1</Sup>. <b>b</b> Responsivity analysis of
      </CapLine>
      <CapLine y={452} right={1253}>
        the chips at small Δ<I>P</I> using multiple periods of measured data from <b>a</b> as a function of the pressure change, and a comparison to a commercial
      </CapLine>
      <CapLine y={475.5} right={1276}>
        capacitive pressure sensor (Murata SCB10H). <b>c</b> Analysis of the responsivity of the chips as determined from periodic pressure steps between 1000 and
      </CapLine>
      <CapLine y={499} right={1276}>
        900 mbar. The gas pressure is changed at a rate of 175.4 mbar s<Sup>−1</Sup>. Panels on the left: Blue line—measured capacitance of a graphene sensor with
      </CapLine>
      <CapLine y={522.5} right={1240}>
        <I>t</I>
        <Sub>
          SiO<Sub>2</Sub>
        </Sub>{" "}
        = 2.17 <I>μ</I>m. Orange line—measured capacitance of a sensor with <I>t</I>
        <Sub>
          SiO<Sub>2</Sub>
        </Sub>{" "}
        = 285 nm. Thin gray line—applied time-dependent pressure profile.
      </CapLine>
      <CapLine y={546} right={1276}>
        Magenta lines—extracted capacitance response of the sensors. Panels on the right: statistics over a number of cycles for both oxide thicknesses. The
      </CapLine>
      <CapLine y={569.5} right={1275}>
        higher responsivity and larger gas leak rate of the 285 nm device can account for the larger variations. Magenta lines—fit to a normal distribution,
      </CapLine>
      <CapLine y={593} right={770}>
        with the corresponding mean values <I>μ</I> and standard deviations <I>σ</I> in aF Pa<Sup>−1</Sup> indicated
      </CapLine>
    </div>
  );
}
